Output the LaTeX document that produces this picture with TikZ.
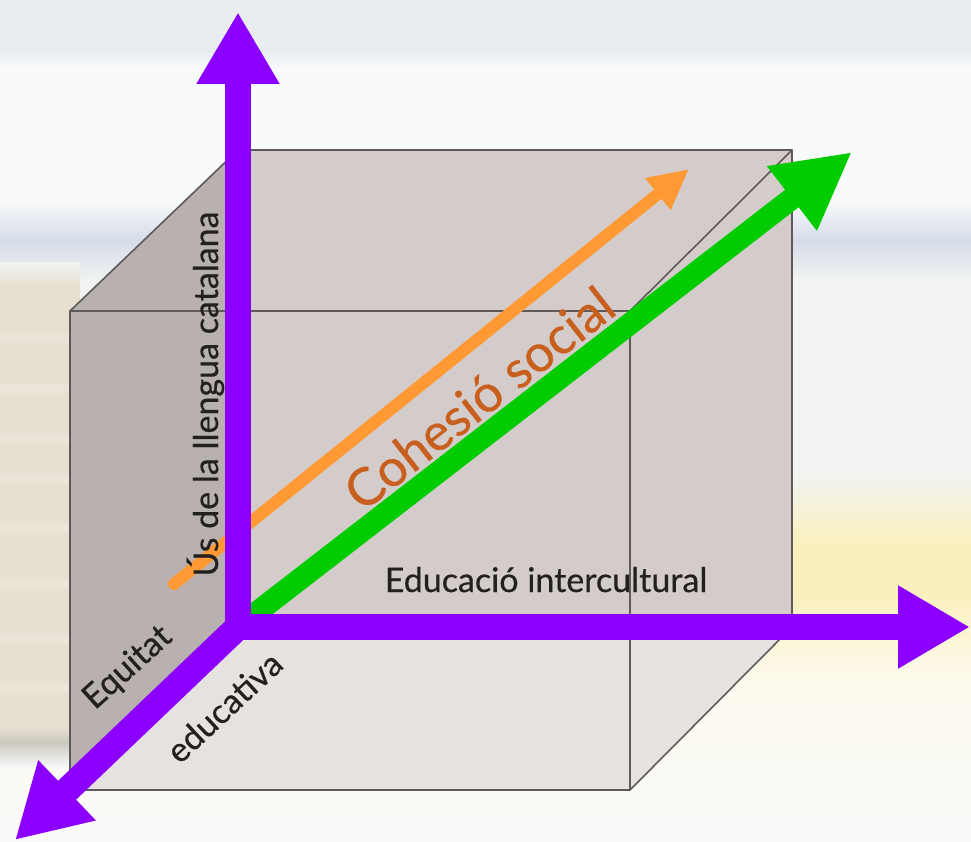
\documentclass[tikz,border=0pt]{standalone}
\usepackage{fontspec}
\setmainfont{Lato}
\newfontfamily\labelfont[FakeBold=0.5]{Lato}
\usetikzlibrary{arrows.meta}
\definecolor{axpurple}{RGB}{140,0,255}
\definecolor{argreen}{RGB}{0,204,0}
\definecolor{arorange}{RGB}{255,153,51}
\definecolor{txtbrown}{RGB}{200,95,30}
\definecolor{txtdark}{RGB}{35,32,32}
\definecolor{edgegray}{RGB}{95,90,90}
\definecolor{faceleft}{RGB}{184,177,175}
\definecolor{faceback}{RGB}{212,204,203}
\definecolor{facebottom}{RGB}{230,226,224}
\definecolor{bgwhite}{RGB}{249,250,250}
\definecolor{bgtop}{RGB}{233,237,242}
\definecolor{bgblue}{RGB}{214,220,233}
\definecolor{bggray}{RGB}{241,243,242}
\definecolor{bgyellow}{RGB}{250,240,190}
\definecolor{bgcream}{RGB}{253,250,238}
\definecolor{bgbook}{RGB}{231,223,208}
\definecolor{bgbooklight}{RGB}{237,231,219}
\definecolor{bgshadow}{RGB}{205,201,193}
\tikzset{
  cubeedge/.style={draw=edgegray, line width=1.6pt, line join=round},
  axisarrow/.style={draw=axpurple, line width=26pt, -{Triangle[width=78pt,length=72pt]}},
  greenarrow/.style={draw=argreen, line width=22pt, -{Triangle[width=76pt,length=76pt]}},
  orangearrow/.style={draw=arorange, line width=12pt, -{Triangle[width=38pt,length=40pt]}},
  label/.style={text=txtdark, inner sep=0pt, font=\labelfont\fontsize{34}{40}\selectfont},
  biglabel/.style={text=txtbrown, inner sep=0pt, font=\labelfont\fontsize{52}{62}\selectfont}
}
\begin{document}
\begin{tikzpicture}[x=1pt, y=-1pt]
\useasboundingbox (0,0) rectangle (971,842);
% ---------- background ----------
\fill[bgwhite] (0,0) rectangle (971,842);
\fill[bgtop] (0,0) rectangle (971,52);
\shade[top color=bgtop, bottom color=bgwhite] (0,52) rectangle (971,68);
\shade[top color=bgwhite, bottom color=bgblue] (0,200) rectangle (971,240);
\shade[top color=bgblue, bottom color=bggray] (0,240) rectangle (971,280);
\fill[bggray] (0,280) rectangle (971,470);
\shade[top color=bggray, bottom color=bgyellow] (0,470) rectangle (971,545);
\fill[bgyellow] (0,545) rectangle (971,595);
\shade[top color=bgyellow, bottom color=bgcream] (0,595) rectangle (971,680);
\shade[top color=bgcream, bottom color=bgwhite] (0,680) rectangle (971,842);
% book on the left
\shade[top color=bggray, bottom color=bgbook] (-5,262) rectangle (80,285);
\fill[bgbook] (-5,285) rectangle (80,728);
\foreach \yy in {330,380,430,470,520,575,630,680} {
  \shade[top color=bgbook, bottom color=bgbooklight] (-5,\yy) rectangle (80,\yy+8);
  \shade[top color=bgbooklight, bottom color=bgbook] (-5,\yy+8) rectangle (80,\yy+16);
}
\shade[top color=bgbook, bottom color=bgshadow] (-5,728) rectangle (80,742);
\shade[top color=bgshadow, bottom color=bgwhite] (-5,742) rectangle (80,768);
% ---------- cube ----------
\coordinate (FTL) at (70,311);
\coordinate (FTR) at (630,311);
\coordinate (FBR) at (630,790);
\coordinate (FBL) at (70,790);
\coordinate (BTL) at (238,150);
\coordinate (BTR) at (792,150);
\coordinate (BBR) at (792,627);
\coordinate (BBL) at (238,627);
\fill[faceback] (BTL) -- (BTR) -- (BBR) -- (BBL) -- cycle;
\fill[facebottom] (BBL) -- (BBR) -- (FBR) -- (FBL) -- cycle;
\fill[faceleft] (FTL) -- (BTL) -- (BBL) -- (FBL) -- cycle;
\draw[cubeedge] (BTL) -- (BTR) -- (BBR) -- (BBL) -- cycle;
\draw[cubeedge] (FTL) -- (FTR) -- (FBR) -- (FBL) -- cycle;
\draw[cubeedge] (FTL) -- (BTL);
\draw[cubeedge] (FTR) -- (BTR);
\draw[cubeedge] (FBR) -- (BBR);
\draw[cubeedge] (FBL) -- (BBL);
% ---------- diagonal arrows ----------
\coordinate (Ostart) at (174,584);
\coordinate (Otip) at (689,169);
\coordinate (O) at (238,627);
\coordinate (Gtip) at (852,152);
\draw[orangearrow, line cap=round] (Ostart) -- (Otip);
\draw[greenarrow] (O) -- (Gtip);
% ---------- labels ----------
\node[biglabel, rotate=38] (coh) at (479,398) {Cohesió social};
\node[label, anchor=base] (edu) at (546,592) {Educació intercultural};
\node[label, rotate=90, anchor=base] (us) at (218,394) {Ús de la llengua catalana};
% ---------- purple axes ----------
\coordinate (Obot) at (238,640);
\coordinate (Oleft) at (225,627);
\coordinate (Ytip) at (238,12);
\coordinate (Xtip) at (970,627);
\coordinate (Ztip) at (15,840);
\draw[axisarrow] (Obot) -- (Ytip);
\draw[axisarrow] (Oleft) -- (Xtip);
\draw[axisarrow] (O) -- (Ztip);
\node[label, rotate=42] (equ) at (128,668) {Equitat};
\node[label, rotate=43] (educ) at (224,707) {educativa};
\end{tikzpicture}
\end{document}
